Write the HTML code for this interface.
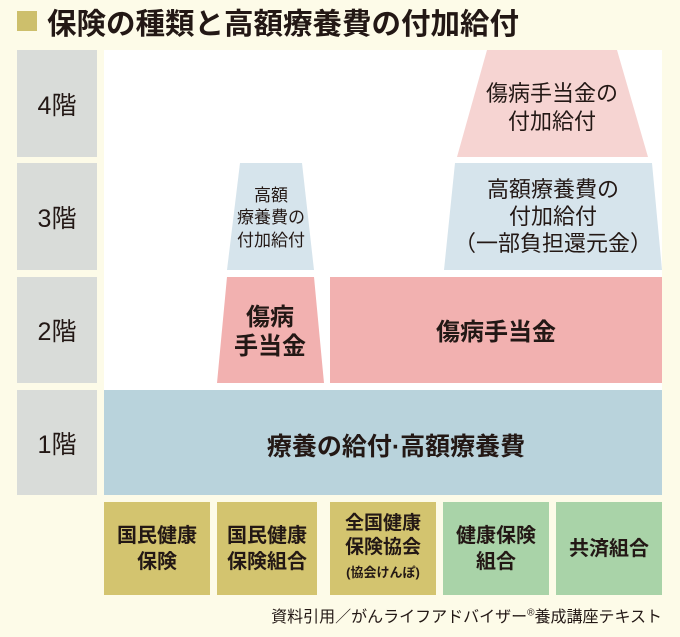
<!DOCTYPE html>
<html><head><meta charset="utf-8"><style>
html,body{margin:0;padding:0;}
body{width:680px;height:637px;background:#fdfbe8;position:relative;overflow:hidden;font-family:"Liberation Sans","Noto Sans CJK JP",sans-serif;color:#231815;}
.a{position:absolute;}
.lbl{position:absolute;left:17px;width:80px;background:#d9dcd9;display:flex;align-items:center;justify-content:center;font-size:25px;}
.box{position:absolute;top:502px;height:93px;display:flex;align-items:center;justify-content:center;text-align:center;font-size:20px;font-weight:bold;line-height:26px;}
svg text{font-family:"Liberation Sans","Noto Sans CJK JP",sans-serif;fill:#231815;text-anchor:middle;}
</style></head><body>
<div class="a" style="left:17px;top:11px;width:20px;height:20px;background:#cdbf6c"></div>
<div class="a" style="left:47px;top:1px;font-size:29.5px;font-weight:bold;white-space:nowrap;">保険の種類と高額療養費の付加給付</div>
<div class="lbl" style="top:50px;height:107px">4階</div>
<div class="lbl" style="top:163px;height:107px">3階</div>
<div class="lbl" style="top:277px;height:106px">2階</div>
<div class="lbl" style="top:390px;height:105px">1階</div>
<div class="a" style="left:104px;top:50px;width:558px;height:340px;background:#fff"></div>
<svg class="a" style="left:0;top:0" width="680" height="637">
<polygon points="487,50 617,50 648,157 457,157" fill="#f6d4d2"/>
<polygon points="240,163 302,163 314,270 227,270" fill="#d6e4ec"/>
<polygon points="455,163 652,163 662,270 444,270" fill="#d6e4ec"/>
<polygon points="227,277 314,277 324,383 217,383" fill="#f2b1b0"/>
<rect x="330" y="277" width="332" height="106" fill="#f2b1b0"/>
<rect x="104" y="390" width="558" height="105" fill="#b9d3dc"/>
<text x="552" y="101" font-size="22">傷病手当金の</text>
<text x="552" y="129" font-size="22">付加給付</text>
<text x="271" y="201" font-size="17">高額</text>
<text x="271" y="223" font-size="17">療養費の</text>
<text x="271" y="246" font-size="17">付加給付</text>
<text x="553" y="197" font-size="22">高額療養費の</text>
<text x="553" y="224" font-size="22">付加給付</text>
<text x="553" y="251" font-size="22">（一部負担還元金）</text>
<text x="270" y="325" font-size="24" font-weight="bold">傷病</text>
<text x="270" y="354" font-size="24" font-weight="bold">手当金</text>
<text x="496" y="340" font-size="24" font-weight="bold">傷病手当金</text>
<text x="396" y="455" font-size="25" font-weight="bold">療養の給付·高額療養費</text>
</svg>
<div class="box" style="left:104px;width:106px;background:#d3c46f">国民健康<br>保険</div>
<div class="box" style="left:217px;width:100px;background:#d3c46f">国民健康<br>保険組合</div>
<div class="box" style="left:330px;width:106px;background:#d3c46f;font-size:19px;line-height:24px"><div>全国健康<br>保険協会<br><span style="font-size:13px">(協会けんぽ)</span></div></div>
<div class="box" style="left:443px;width:106px;background:#a9d3a8">健康保険<br>組合</div>
<div class="box" style="left:556px;width:106px;background:#a9d3a8">共済組合</div>
<div class="a" style="right:18px;top:603px;font-size:16px;white-space:nowrap;">資料引用／がんライフアドバイザー<sup style="font-size:10px">®</sup>養成講座テキスト</div>
</body></html>
